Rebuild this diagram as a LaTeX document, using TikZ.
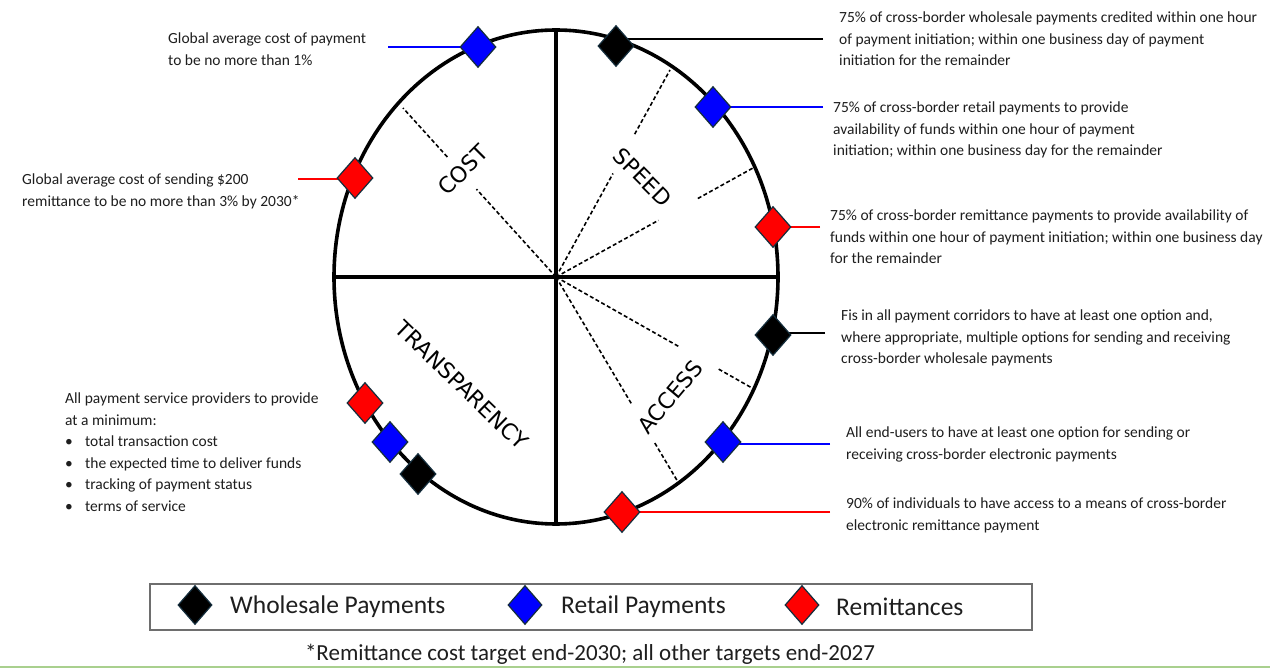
\documentclass[tikz,border=0pt]{standalone}
\usepackage{fontspec}
\setmainfont{Carlito}
\newfontfamily\labelfont{DejaVu Sans}
\usetikzlibrary{shapes.geometric,calc}
\pgfdeclarelayer{background}
\pgfsetlayers{background,main}

\definecolor{mblue}{RGB}{0,0,255}
\definecolor{mred}{RGB}{255,0,0}
\definecolor{edgeteal}{RGB}{20,45,60}
\definecolor{boxgray}{RGB}{110,110,110}
\definecolor{footgreen}{RGB}{169,208,142}
\definecolor{inkgray}{RGB}{30,30,30}

\tikzset{
  x=1pt, y=-1pt,
  gem/.style={diamond, draw=edgeteal, line width=1.2pt, inner sep=0pt,
    minimum width=36pt, minimum height=41pt},
  keygem/.style={gem, minimum width=34pt, minimum height=39pt},
  rim/.style={line width=3.6pt, black},
  spoke/.style={line width=1.6pt, dash pattern=on 4pt off 2.5pt, black},
  conn/.style={line width=2pt},
  note/.style={font=\fontsize{15.5}{21.5}\selectfont, align=left,
    anchor=north west, inner sep=0pt, text=inkgray},
  pillar/.style={font=\labelfont\fontsize{22}{24}\selectfont, inner sep=0pt},
  keytext/.style={font=\fontsize{25.5}{28}\selectfont, anchor=west,
    inner sep=0pt, text=inkgray},
}

\newcommand{\bul}{\makebox[20pt][l]{\textbullet}}

\begin{document}
\begin{tikzpicture}
\useasboundingbox (0,0) rectangle (1270,668);
\begin{pgfonlayer}{background}
\fill[white] (0,0) rectangle (1270,668);
\end{pgfonlayer}

% wheel
\coordinate (c) at (556,277);
\draw[rim] (c) ellipse [x radius=222, y radius=247];
\draw[rim] (335,277) -- (778,277);
\draw[rim] (556,30) -- (556,524);

% dashed sub-dividers
\coordinate (e1) at (403,108);
\coordinate (e2) at (670,70);
\coordinate (e3) at (753,168);
\coordinate (e4) at (752,388);
\coordinate (e5) at (678,482);
\draw[spoke] (c) -- ($(c)!0.52!(e1)$) ($(c)!0.71!(e1)$) -- (e1);
\draw[spoke] (c) -- ($(c)!0.50!(e2)$) ($(c)!0.69!(e2)$) -- (e2);
\draw[spoke] (c) -- ($(c)!0.52!(e3)$) ($(c)!0.72!(e3)$) -- (e3);
\draw[spoke] (c) -- ($(c)!0.63!(e4)$) ($(c)!0.83!(e4)$) -- (e4);
\draw[spoke] (c) -- ($(c)!0.62!(e5)$) ($(c)!0.81!(e5)$) -- (e5);

% pillar labels
\node[pillar, rotate=45]  (lcost)  at (463,170) {COST};
\node[pillar, rotate=-45] (lspeed) at (643,177) {SPEED};
\node[pillar, rotate=-44] (ltrans) at (462,385) {TRANSPARENCY};
\node[pillar, rotate=50]  (lacc)   at (670,397) {ACCESS};

% target markers on the rim
\node[gem, fill=mblue] (dCostB) at (478,47)  {};
\node[gem, fill=mred]  (dCostR) at (355,178) {};
\node[gem, fill=black] (dSpdK)  at (616,46)  {};
\node[gem, fill=mblue] (dSpdB)  at (713,107) {};
\node[gem, fill=mred]  (dSpdR)  at (773,227) {};
\node[gem, fill=black] (dAccK)  at (773,335) {};
\node[gem, fill=mblue] (dAccB)  at (723,442) {};
\node[gem, fill=mred]  (dAccR)  at (622,512) {};
\node[gem, fill=mred]  (dTrR)   at (365,403) {};
\node[gem, fill=mblue] (dTrB)   at (390,442) {};
\node[gem, fill=black] (dTrK)   at (418,474) {};

% leader ends
\coordinate (lCostB) at (388,47);
\coordinate (lCostR) at (298,179);
\coordinate (lSpdK)  at (823,39);
\coordinate (lSpdB)  at (823,107);
\coordinate (lSpdR)  at (820,227);
\coordinate (lAccK)  at (825,333);
\coordinate (lAccB)  at (830,444);
\coordinate (lAccR)  at (830,512);

% leaders run beneath the markers
\begin{pgfonlayer}{background}
\draw[conn, mblue] (lCostB) -- (lCostB -| dCostB);
\draw[conn, mred]  (lCostR) -- (lCostR -| dCostR);
\draw[conn, black] (lSpdK)  -- (lSpdK -| dSpdK);
\draw[conn, mblue] (lSpdB)  -- (lSpdB -| dSpdB);
\draw[conn, mred]  (lSpdR)  -- (lSpdR -| dSpdR);
\draw[conn, black] (lAccK)  -- (lAccK -| dAccK);
\draw[conn, mblue] (lAccB)  -- (lAccB -| dAccB);
\draw[conn, mred]  (lAccR)  -- (lAccR -| dAccR);
\end{pgfonlayer}

% target texts
\node[note] (tCostB) at (168,33) {Global average cost of payment\\to be no more than 1\%};
\node[note] (tCostR) at (22,174) {Global average cost of sending \$200\\remittance to be no more than 3\% by 2030*};
\node[note] (tSpdK) at (839,12) {75\% of cross-border wholesale payments credited within one hour\\of payment initiation; within one business day of payment\\initiation for the remainder};
\node[note] (tSpdB) at (833,102) {75\% of cross-border retail payments to provide\\availability of funds within one hour of payment\\initiation; within one business day for the remainder};
\node[note] (tSpdR) at (830,210) {75\% of cross-border remittance payments to provide availability of\\funds within one hour of payment initiation; within one business day\\for the remainder};
\node[note] (tAccK) at (841,310) {Fis in all payment corridors to have at least one option and,\\where appropriate, multiple options for sending and receiving\\cross-border wholesale payments};
\node[note] (tAccB) at (846,427) {All end-users to have at least one option for sending or\\receiving cross-border electronic payments};
\node[note] (tAccR) at (846,498) {90\% of individuals to have access to a means of cross-border\\electronic remittance payment};
\node[note] (tTr) at (65,393) {All payment service providers to provide\\at a minimum:\\\bul total transaction cost\\\bul the expected time to deliver funds\\\bul tracking of payment status\\\bul terms of service};

% legend
\node[draw=boxgray, line width=1.8pt, minimum width=882pt, minimum height=46pt,
      inner sep=0pt] (legend) at (591,607) {};
\node[keygem, fill=black] (kK) at (195,605) {};
\node[keygem, fill=mblue] (kB) at (525,605) {};
\node[keygem, fill=mred]  (kR) at (802,605) {};
\node[keytext] (kKt) at (230,607) {Wholesale Payments};
\node[keytext] (kBt) at (561,607) {Retail Payments};
\node[keytext] (kRt) at (836,607) {Remittances};

% footnote
\node[font=\fontsize{23}{26}\selectfont, text=inkgray, inner sep=0pt] (foot) at (590,654)
  {*Remittance cost target end-2030; all other targets end-2027};

\fill[footgreen] (0,665.5) rectangle (1270,668);
\end{tikzpicture}
\end{document}
